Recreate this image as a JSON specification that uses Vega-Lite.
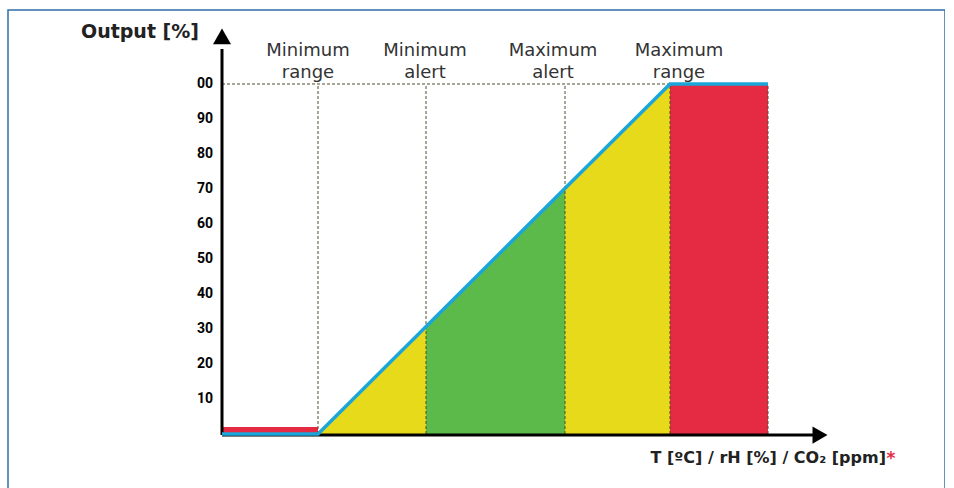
{
  "$schema": "https://vega.github.io/schema/vega-lite/v6.json",
  "autosize": "none",
  "padding": {"left": 8, "top": 10, "right": 0, "bottom": 0},
  "width": 937,
  "height": 482,
  "config": {"view": {"stroke": "#2F6EA8", "strokeWidth": 1.5}, "background": "white"},
  "datasets": {
    "zones": [
      {"zone": "low", "v": 0, "y": 2},
      {"zone": "low", "v": 96, "y": 2},
      {"zone": "rise1", "v": 96, "y": 0},
      {"zone": "rise1", "v": 204, "y": 30.68},
      {"zone": "ok", "v": 204, "y": 30.68},
      {"zone": "ok", "v": 343, "y": 70.17},
      {"zone": "rise2", "v": 343, "y": 70.17},
      {"zone": "rise2", "v": 448, "y": 100},
      {"zone": "high", "v": 448, "y": 100},
      {"zone": "high", "v": 546, "y": 100}
    ],
    "curve": [
      {"v": 0, "y": 0},
      {"v": 96, "y": 0},
      {"v": 448, "y": 100},
      {"v": 546, "y": 100}
    ],
    "thresholds": [
      {"v": 96}, {"v": 204}, {"v": 343}, {"v": 448}, {"v": 546}
    ],
    "labels": [
      {"v": 86, "t": "Minimum\nrange"},
      {"v": 203, "t": "Minimum\nalert"},
      {"v": 331, "t": "Maximum\nalert"},
      {"v": 457, "t": "Maximum\nrange"}
    ],
    "ticks": [
      {"y": 10, "t": "10"}, {"y": 20, "t": "20"}, {"y": 30, "t": "30"},
      {"y": 40, "t": "40"}, {"y": 50, "t": "50"}, {"y": 60, "t": "60"},
      {"y": 70, "t": "70"}, {"y": 80, "t": "80"}, {"y": 90, "t": "90"},
      {"y": 100, "t": "00"}
    ]
  },
  "encoding": {
    "x": {"type": "quantitative", "scale": {"domain": [-214, 723], "nice": false, "zero": false}, "axis": null},
    "y": {"type": "quantitative", "scale": {"domain": [-16.57, 121.14], "nice": false, "zero": false}, "axis": null}
  },
  "layer": [
    {
      "data": {"name": "zones"},
      "mark": {"type": "area", "opacity": 1},
      "encoding": {
        "x": {"field": "v"},
        "y": {"field": "y"},
        "y2": {"datum": 0},
        "color": {"field": "zone", "type": "nominal", "legend": null,
          "scale": {"domain": ["low", "rise1", "ok", "rise2", "high"],
                    "range": ["#E52B43", "#E6DA1A", "#5BBA4A", "#E6DA1A", "#E52B43"]}}
      }
    },
    {
      "data": {"name": "thresholds"},
      "mark": {"type": "rule", "stroke": "#4f4f30", "strokeWidth": 1, "strokeDash": [3, 2]},
      "encoding": {"x": {"field": "v"}, "y": {"datum": 0}, "y2": {"datum": 100}}
    },
    {
      "data": {"values": [{"a": 0, "b": 448, "y": 100}]},
      "mark": {"type": "rule", "stroke": "#4f4f30", "strokeWidth": 1, "strokeDash": [3, 2]},
      "encoding": {"x": {"field": "a"}, "x2": {"field": "b"}, "y": {"field": "y"}}
    },
    {
      "data": {"values": [{"a": 0, "b": 592, "y": -0.3}]},
      "mark": {"type": "rule", "stroke": "black", "strokeWidth": 3},
      "encoding": {"x": {"field": "a"}, "x2": {"field": "b"}, "y": {"field": "y"}}
    },
    {
      "data": {"values": [{"x": 0, "a": -0.3, "b": 110}]},
      "mark": {"type": "rule", "stroke": "black", "strokeWidth": 3},
      "encoding": {"x": {"field": "x"}, "y": {"field": "a"}, "y2": {"field": "b"}}
    },
    {
      "data": {"values": [{"x": 0, "y": 113.6}]},
      "mark": {"type": "point", "filled": true, "color": "black", "opacity": 1, "size": 324, "shape": "triangle-up"},
      "encoding": {"x": {"field": "x"}, "y": {"field": "y"}}
    },
    {
      "data": {"values": [{"x": 598, "y": -0.3}]},
      "mark": {"type": "point", "filled": true, "color": "black", "opacity": 1, "size": 300, "shape": "triangle-right"},
      "encoding": {"x": {"field": "x"}, "y": {"field": "y"}}
    },
    {
      "data": {"name": "curve"},
      "mark": {"type": "line", "stroke": "#1BA6D9", "strokeWidth": 3.5},
      "encoding": {"x": {"field": "v"}, "y": {"field": "y"}}
    },
    {
      "data": {"name": "labels"},
      "mark": {"type": "text", "align": "center", "baseline": "alphabetic", "lineBreak": "\n", "lineHeight": 22, "font": "DejaVu Sans", "fontSize": 18, "color": "#333333"},
      "encoding": {"x": {"field": "v"}, "y": {"datum": 108}, "text": {"field": "t"}}
    },
    {
      "data": {"name": "ticks"},
      "mark": {"type": "text", "align": "right", "baseline": "middle", "font": "Roboto", "fontWeight": "bold", "fontSize": 14, "color": "#000000"},
      "encoding": {"x": {"datum": -9}, "y": {"field": "y"}, "text": {"field": "t"}}
    },
    {
      "data": {"values": [{"t": "Output [%]"}]},
      "mark": {"type": "text", "align": "right", "baseline": "alphabetic", "font": "DejaVu Sans", "fontWeight": "bold", "fontSize": 19, "color": "#222222"},
      "encoding": {"x": {"datum": -23}, "y": {"datum": 113.2}, "text": {"field": "t"}}
    },
    {
      "data": {"values": [{"t": "T [ºC] / rH [%] / CO₂ [ppm]"}]},
      "mark": {"type": "text", "align": "right", "baseline": "alphabetic", "font": "DejaVu Sans", "fontWeight": "bold", "fontSize": 16, "color": "#222222"},
      "encoding": {"x": {"datum": 664}, "y": {"datum": -8.3}, "text": {"field": "t"}}
    },
    {
      "data": {"values": [{"t": "*"}]},
      "mark": {"type": "text", "align": "left", "baseline": "alphabetic", "font": "DejaVu Sans", "fontWeight": "bold", "fontSize": 17, "color": "#E52B43"},
      "encoding": {"x": {"datum": 664.5}, "y": {"datum": -8.6}, "text": {"field": "t"}}
    }
  ]
}
